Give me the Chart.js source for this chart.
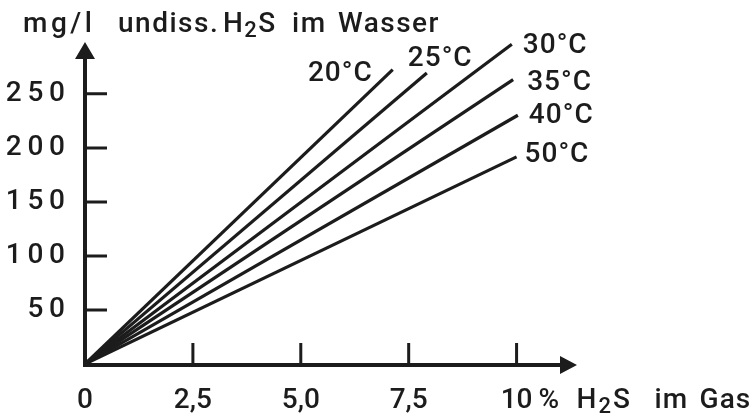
<!DOCTYPE html>
<html>
<head>
<meta charset="utf-8">
<script src="https://cdn.jsdelivr.net/npm/chart.js@4.4.1/dist/chart.umd.min.js"></script>
<style>
  html, body { margin: 0; padding: 0; background: #fff; }
</style>
</head>
<body>
<canvas id="plot" width="756" height="417"></canvas>
<script>
// Kurven: Temperatur, Endpunkt jeder Geraden (Start im Ursprung)
const temperaturen = ['20°C', '25°C', '30°C', '35°C', '40°C', '50°C'];
const gasProzent = [7.13, 7.92, 9.89, 9.92, 10.03, 10.0];
const wasserMgL = [272.5, 269.3, 295.9, 263.2, 230.2, 191.7];

// Achsenbeschriftung
const xTicks = [0, 2.5, 5, 7.5, 10];
const xTickLabels = ['0', '2,5', '5,0', '7,5', '10'];
const yTicks = [50, 100, 150, 200, 250];

const ink = '#1c1c1c';
const schrift = 'Roboto';

// Lage der Temperaturtexte relativ zum Linienende
const labelOffsets = [
  { dx: -20, dy: 11, align: 'right' },
  { dx: -19, dy: -7, align: 'left' },
  { dx: 11, dy: 8.5, align: 'left' },
  { dx: 14, dy: 10, align: 'left' },
  { dx: 11, dy: 8, align: 'left' },
  { dx: 8, dy: 5, align: 'left' }
];

let setFont = (ctx, size) => { ctx.font = `500 ${size}px ${schrift}`; };

let h2s = (ctx, x, base, size, gap) => {
  setFont(ctx, size);
  ctx.fillText('H', x, base);
  x += ctx.measureText('H').width + gap;
  setFont(ctx, Math.round(size * 0.8));
  ctx.fillText('2', x, base + 5);
  x += ctx.measureText('2').width + gap;
  setFont(ctx, size);
  ctx.fillText('S', x, base);
};

const achsenPlugin = {
  id: 'achsen',
  beforeDatasetsDraw(chart) {
    const { ctx, chartArea: a, scales: { x, y } } = chart;
    const x0 = x.getPixelForValue(0);
    const y0 = y.getPixelForValue(0) + 1;
    ctx.save();
    ctx.strokeStyle = ink;
    ctx.fillStyle = ink;

    // Achsen
    ctx.lineWidth = 4;
    ctx.beginPath();
    ctx.moveTo(x0, y0 + 2);
    ctx.lineTo(x0, a.top + 14);
    ctx.moveTo(x0 - 2, y0);
    ctx.lineTo(a.right - 14, y0);
    ctx.stroke();

    // Pfeilspitzen
    ctx.beginPath();
    ctx.moveTo(x0, a.top);
    ctx.lineTo(x0 - 10, a.top + 17);
    ctx.lineTo(x0 + 10, a.top + 17);
    ctx.closePath();
    ctx.moveTo(a.right, y0);
    ctx.lineTo(a.right - 17, y0 - 9);
    ctx.lineTo(a.right - 17, y0 + 9);
    ctx.closePath();
    ctx.fill();

    // Teilstriche nach innen
    ctx.lineWidth = 3;
    ctx.beginPath();
    xTicks.filter(v => v > 0).forEach(v => {
      const px = x.getPixelForValue(v);
      ctx.moveTo(px, y0);
      ctx.lineTo(px, y0 - 22);
    });
    yTicks.forEach(v => {
      const py = y.getPixelForValue(v);
      ctx.moveTo(x0, py);
      ctx.lineTo(x0 + 22, py);
    });
    ctx.stroke();
    ctx.restore();
  },
  afterDatasetsDraw(chart) {
    const { ctx, scales: { x, y } } = chart;
    ctx.save();
    ctx.fillStyle = ink;
    ctx.textBaseline = 'alphabetic';

    // Temperaturen an den Linien
    ctx.letterSpacing = '1px';
    setFont(ctx, 28);
    temperaturen.forEach((t, i) => {
      const o = labelOffsets[i];
      ctx.textAlign = o.align;
      ctx.fillText(t, x.getPixelForValue(gasProzent[i]) + o.dx, y.getPixelForValue(wasserMgL[i]) + o.dy);
    });

    // Titel der y-Achse
    ctx.textAlign = 'left';
    setFont(ctx, 28);
    ctx.letterSpacing = '3.5px';
    ctx.fillText('mg/l', 23, 32);
    ctx.letterSpacing = '1.5px';
    ctx.fillText('undiss.', 118, 32);
    h2s(ctx, 223, 32, 28, 0);
    setFont(ctx, 28);
    ctx.fillText('im', 292, 32);
    ctx.fillText('Wasser', 338, 32);

    // Titel der x-Achse
    const xe = x.getPixelForValue(10);
    ctx.letterSpacing = '1px';
    setFont(ctx, 28);
    ctx.fillText('%', xe + 22, 408);
    h2s(ctx, xe + 60, 408, 28, 1);
    setFont(ctx, 28);
    ctx.fillText('im', xe + 138, 408);
    ctx.fillText('Gas', xe + 183, 408);
    ctx.restore();
  }
};

let config = {
  type: 'scatter',
  data: {
    datasets: temperaturen.map((t, i) => ({
      label: t,
      data: [{ x: 0, y: 0 }, { x: gasProzent[i], y: wasserMgL[i] }],
      showLine: true,
      borderColor: ink,
      borderWidth: 3.2,
      pointRadius: 0,
      fill: false
    }))
  },
  options: {
    responsive: false,
    animation: false,
    devicePixelRatio: 1,
    layout: { padding: { top: 42, right: 179, left: 0, bottom: 0 } },
    plugins: { legend: { display: false }, tooltip: { enabled: false } },
    scales: {
      x: {
        type: 'linear',
        min: 0,
        max: 11.4,
        afterBuildTicks: s => { s.ticks = xTicks.map(v => ({ value: v })); },
        afterFit: s => { s.height = 53; },
        grid: { display: false, drawTicks: false },
        border: { display: false },
        ticks: {
          autoSkip: false,
          maxRotation: 0,
          padding: 20,
          color: ink,
          font: { family: schrift, size: 28, weight: 500 },
          callback: v => xTickLabels[xTicks.indexOf(v)]
        }
      },
      y: {
        type: 'linear',
        min: 0,
        max: 298,
        afterBuildTicks: s => { s.ticks = yTicks.map(v => ({ value: v })); },
        afterFit: s => { s.width = 85; },
        grid: { display: false, drawTicks: false },
        border: { display: false },
        ticks: {
          padding: 20,
          color: ink,
          font: { family: schrift, size: 28, weight: 500 },
          callback: v => String(v).split('').join('\u2009')
        }
      }
    }
  },
  plugins: [achsenPlugin]
};

new Chart(document.getElementById('plot'), config);
</script>
</body>
</html>
